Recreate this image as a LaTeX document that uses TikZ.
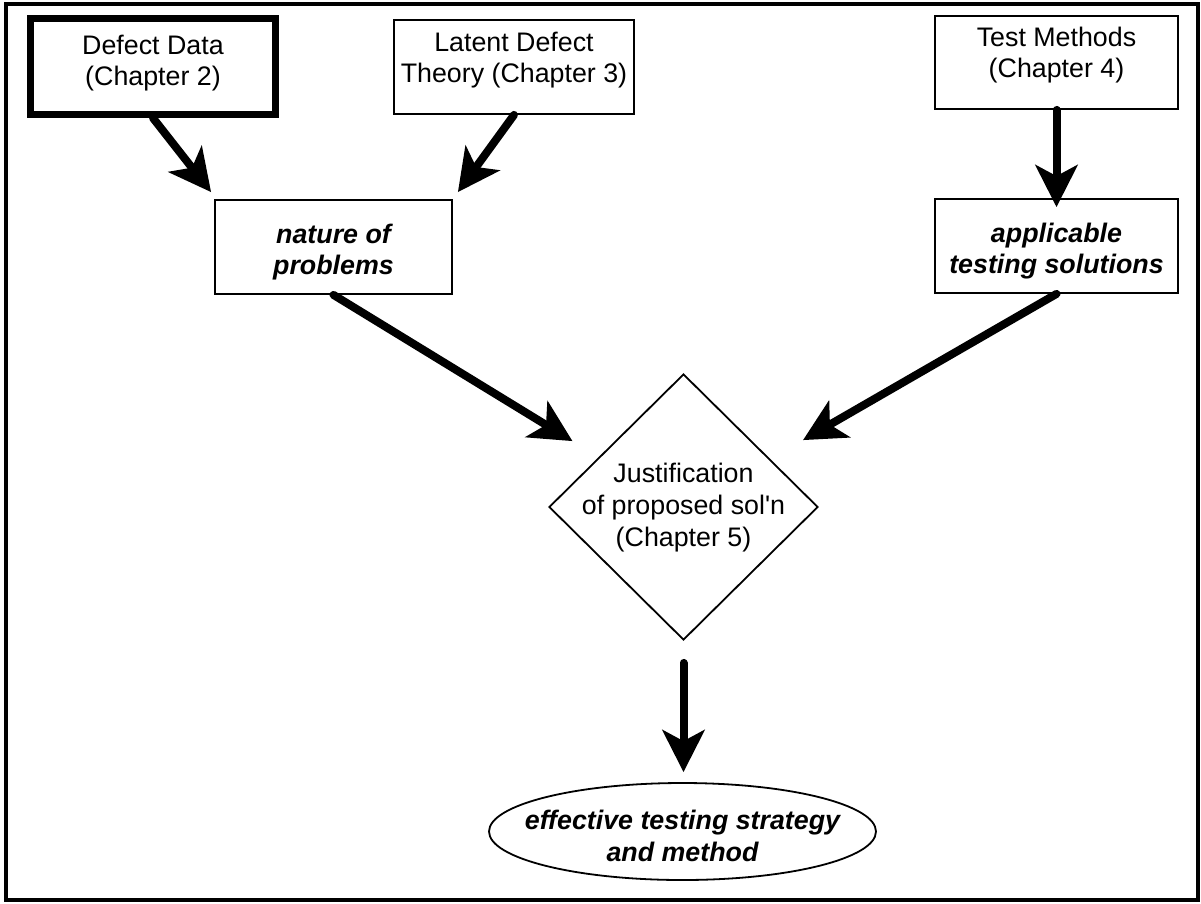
\documentclass[tikz,border=0pt]{standalone}
\usepackage{fontspec}
\setmainfont{Liberation Sans}
\usetikzlibrary{arrows.meta,shapes.geometric,calc}
\tikzset{
  frm/.style={draw, rectangle, line width=3.5pt, inner sep=0pt},
  plainbox/.style={draw, rectangle, line width=1.8pt, inner sep=0pt},
  heavybox/.style={draw, rectangle, line width=7pt, inner sep=0pt},
  dbox/.style={draw, diamond, line width=1.8pt, inner sep=0pt},
  ebox/.style={draw, ellipse, line width=1.8pt, inner sep=0pt},
  txt/.style={align=center, inner sep=0pt, font=\fontsize{26.8}{31}\selectfont},
  btxt/.style={align=center, inner sep=0pt, font=\fontsize{26.8}{31}\selectfont\bfseries\itshape},
  arr/.style={line width=8pt, line cap=round, -{Stealth[length=42pt,width=42pt,inset=11pt]}},
}
\begin{document}
\begin{tikzpicture}[x=1pt,y=-1pt]
\useasboundingbox (0,0) rectangle (1201,903);
% frame
\node[frm, minimum width=1192pt, minimum height=896pt] (fr) at (602,452) {};
% top boxes
\node[heavybox, minimum width=245pt, minimum height=96pt] (dd) at (153,66.5) {};
\node[txt] (ddt) at (153,63.5) {Defect Data\\(Chapter 2)};
\node[plainbox, minimum width=240pt, minimum height=94pt] (lat) at (514,67) {};
\node[txt] (latt) at (514,60.5) {Latent Defect\\Theory (Chapter 3)};
\node[plainbox, minimum width=243pt, minimum height=93pt] (tm) at (1056.5,62.5) {};
\node[txt] (tmt) at (1056.5,55.5) {Test Methods\\(Chapter 4)};
% middle boxes
\node[plainbox, minimum width=237pt, minimum height=94pt] (nat) at (333.5,247) {};
\node[btxt] (natt) at (333.5,252.5) {nature of\\problems};
\node[plainbox, minimum width=243pt, minimum height=94pt] (app) at (1056.5,246) {};
\node[btxt] (appt) at (1056.5,251.5) {applicable\\testing solutions};
% diamond
\node[dbox, minimum width=269pt, minimum height=266pt] (dia) at (683.5,507) {};
\node[txt, font=\fontsize{26.8}{32}\selectfont] (diat) at (683.5,508) {Justification\\of proposed sol\textquotesingle n\\(Chapter 5)};
% ellipse
\node[ebox, minimum width=387pt, minimum height=97pt] (ell) at (682.5,831.5) {};
\node[btxt, font=\fontsize{26.8}{32}\selectfont\bfseries\itshape] (ellt) at (682.5,836) {effective testing strategy\\and method};
% free arrow ends
\coordinate (t1) at ($(nat.north west)+(-3,-7)$);
\coordinate (t2) at ($(nat.north east)+(5,-7)$);
\coordinate (t3) at ($(app.north)+(0,9)$);
\coordinate (t4) at ($(dia.north)+(-111,68)$);
\coordinate (t5) at ($(dia.north)+(119.5,67)$);
\coordinate (s6) at ($(dia.south)+(0,22)$);
\coordinate (t6) at ($(ell.north)+(1,-10)$);
% connectors
\draw[arr] (dd.south) -- (t1);
\draw[arr] (lat.south) -- (t2);
\draw[arr] (tm.south) -- (t3);
\draw[arr] (nat.south) -- (t4);
\draw[arr] (app.south) -- (t5);
\draw[arr] (s6) -- (t6);
\end{tikzpicture}
\end{document}
